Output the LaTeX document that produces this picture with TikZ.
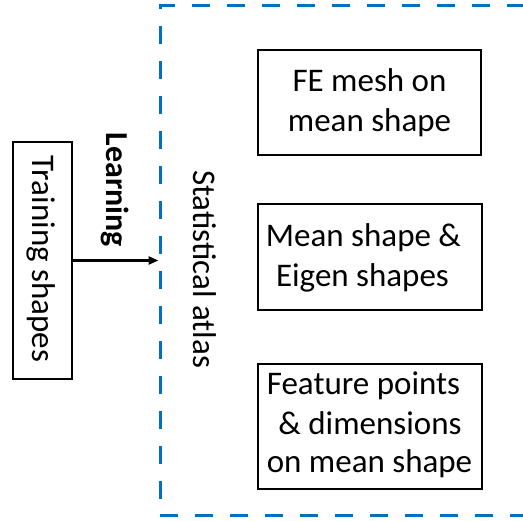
\documentclass[tikz,border=0pt]{standalone}
\usepackage{fontspec}
\setmainfont{Carlito}
\usetikzlibrary{arrows.meta}
\definecolor{atlasblue}{RGB}{0,112,192}
\tikzset{
  box/.style={draw=black, line width=2pt, inner sep=0pt, rectangle},
  txt/.style={inner sep=0pt, anchor=base, font=\fontsize{33}{39}\selectfont},
  vtxt/.style={txt, rotate=-90},
  atlasbox/.style={draw=atlasblue, line width=3pt, dash pattern=on 18pt off 17pt, inner sep=0pt, rectangle},
  arr/.style={line width=2.5pt, -{Triangle[length=10pt,width=8pt]}}
}
\begin{document}
\begin{tikzpicture}[x=1pt,y=-1pt]
\useasboundingbox (0,0) rectangle (523,521);
\clip (0,0) rectangle (523,521);
% dashed atlas region
\node[atlasbox, minimum width=400pt, minimum height=510pt] (atlas) at (360,261) {};
% training shapes
\node[box, minimum width=59pt, minimum height=237pt] (train) at (42.5,260.5) {};
\node[vtxt] (trainlbl) at (32,259) {Training shapes};
% learning arrow
\draw[arr] (train.east) -- (train.east -| atlas.west);
\node[vtxt, font=\fontsize{32}{38}\bfseries] (learn) at (106,190) {Learning};
% statistical atlas label
\node[vtxt] (atlaslbl) at (193,269) {Statistical atlas};
% box 1
\node[box, minimum width=223pt, minimum height=105pt] (b1) at (369.5,102.5) {};
\node[txt] (b1a) at (369.5,92) {FE mesh on};
\node[txt] (b1b) at (369.5,132) {mean shape};
% box 2
\node[box, minimum width=224pt, minimum height=106pt] (b2) at (370,257) {};
\node[txt] (b2a) at (363.5,247) {Mean shape \&};
\node[txt] (b2b) at (362.5,287) {Eigen shapes};
% box 3
\node[box, minimum width=224pt, minimum height=125pt] (b3) at (370,426.5) {};
\node[txt] (b3a) at (363.5,395) {Feature points};
\node[txt] (b3b) at (370,435) {\& dimensions};
\node[txt] (b3c) at (369.5,473) {on mean shape};
\end{tikzpicture}
\end{document}
